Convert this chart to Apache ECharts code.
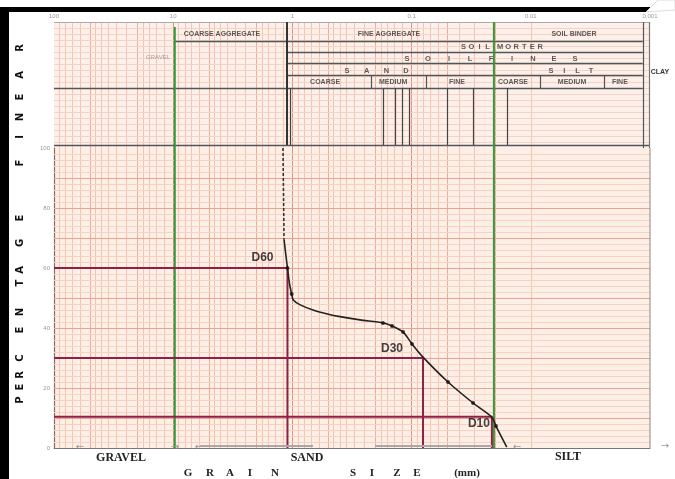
<!DOCTYPE html>
<html><head><meta charset="utf-8">
<script src="https://cdn.jsdelivr.net/npm/echarts@6/dist/echarts.min.js"></script>
<style>html,body{margin:0;padding:0;background:#fff}#c{width:675px;height:479px}</style>
</head><body><div id="c"></div>
<script>
// ---------------- DATA ----------------
const decadeTicks = [100, 10, 1, 0.1, 0.01, 0.001];
const percentTicks = [0, 20, 40, 60, 80, 100];
// grain size (mm) and percent finer
const curveDashedSize = [1.20, 1.175];
const curveDashedPct  = [100, 69.5];
const curveSize = [1.175, 1.14, 1.10, 1.06, 1.014, 0.983, 0.86, 0.672, 0.50, 0.399, 0.271, 0.174, 0.146, 0.118, 0.0993, 0.0802, 0.0495, 0.0305, 0.0212, 0.0196, 0.0159];
const curvePct  = [69.5, 65, 60, 55, 51.3, 49.3, 47.7, 46, 44.6, 43.8, 42.7, 41.7, 40.7, 38.7, 34.7, 30.3, 22, 15, 10.3, 7.3, 0.3];
const pointSize = [1.10, 1.014, 0.174, 0.146, 0.118, 0.0993, 0.0495, 0.0305, 0.0196];
const pointPct  = [60, 51.3, 41.7, 40.7, 38.7, 34.7, 22, 15, 7.3];
const dNames = ['D60', 'D30', 'D10'];
const dSizes = [1.10, 0.0802, 0.0212];
const dPcts  = [60, 30, 10.4];
const boundarySizes = [9.7, 0.0204];          // green division lines
const sieveSizes = [0.174, 0.138, 0.120, 0.105, 0.0505, 0.0305, 0.0159];

// ---------------- LAYOUT (decoration) ----------------
const HDR_MAX = 126;
const hLines = [ // [from mm, to mm, row offset, width, color]
  [100, 0.001, 0, 1, '#aaaaaa'],
  [9.7, 0.00115, 19, 1.3, '#555'],
  [1.11, 0.00115, 30, 1.3, '#555'],
  [1.11, 0.00115, 41, 1.3, '#555'],
  [1.11, 0.00115, 53, 1.3, '#555'],
  [100, 0.00115, 66, 1.3, '#555'],
  [100, 0.001, 123, 1.3, '#555']
];
const vLines = [ // [mm, from, to, width, color]
  [1.11, 0, 123, 2, '#333'],
  [1.05, 66, 123, 1.2, '#444'],
  [0.22, 53, 66, 1.2, '#555'],
  [0.076, 53, 66, 1.2, '#555'],
  [0.00837, 53, 66, 1.2, '#555'],
  [0.00243, 53, 66, 1.2, '#555'],
  [0.00115, 0, 126, 1.2, '#555'],
  [0.00102, 0, 126, 1.2, '#777']
];
const headerTexts = [ // [text, mm, row offset, style, step]
  ['COARSE AGGREGATE', 3.9, 12, 'b', 0],
  ['FINE AGGREGATE', 0.155, 12, 'b', 0],
  ['SOIL BINDER', 0.00434, 12, 'b', 0],
  ['SOIL MORTER', 0.0175, 25, 's', 8],
  ['SOILFINES', 0.0216, 37, 's', 21],
  ['SAND', 0.197, 49, 's', 19.7],
  ['SILT', 0.0046, 49, 's', 13.3],
  ['COARSE', 0.532, 60, 'b', 0],
  ['MEDIUM', 0.143, 60, 'b', 0],
  ['FINE', 0.0416, 60, 'b', 0],
  ['COARSE', 0.0141, 60, 'b', 0],
  ['MEDIUM', 0.00451, 60, 'b', 0],
  ['FINE', 0.00179, 60, 'b', 0],
  ['GRAVEL', 13.4, 35, 'g', 0]
];
const sideLetters = [['P',400],['E',387],['R',375],['C',358],['E',330],['N',312],['T',283],['A',270],['G',243],['E',218],['F',163],['I',137],['N',117],['E',97],['A',75],['R',48]];
const axisTitle = [['G',188],['R',210],['A',230],['I',250],['N',275],['S',353],['I',372],['Z',397],['E',417],['(mm)',467]];

const NARROW = '"Liberation Sans Narrow","Arial Narrow","Liberation Sans",sans-serif';
const SERIF = '"Liberation Serif","DejaVu Serif",serif';

// paper grid
const mult = [1,1.2,1.4,1.6,1.8,2,2.5,3,3.5,4,4.5,5,6,7,8,9];
const vGrid = [];
for (let e = -3; e <= 1; e++) for (const m of mult) {
  const v = +(m * Math.pow(10, e)).toPrecision(3);
  if (v > 0.001 && v < 100) vGrid.push({ xAxis: v, lineStyle: { type: 'solid', color: m === 1 ? '#e0937c' : (m === 5 || m === 2 ? '#eeae98' : '#f4c6b1'), width: 1 } });
}
const hGridMain = [];
for (let p = 2; p < 100; p += 2) hGridMain.push({ yAxis: p, lineStyle: { type: 'solid', color: p % 10 === 0 ? '#e9a391' : '#f6d2c4', width: 1 } });
const hGridHdr = [];
for (let r = 6; r < 123; r += 6) hGridHdr.push({ yAxis: r, lineStyle: { type: 'solid', color: '#f6d2c4', width: 1 } });

function spacedLabel(word, step) {
  let f = '';
  for (const ch of word) f += ch === ' ' ? '{g| }' : '{c|' + ch + '}';
  return { formatter: f, rich: { c: { width: step, align: 'center', fontSize: 7.5, fontWeight: 'bold', color: '#333', fontFamily: NARROW }, g: { width: step * 0.6 } } };
}

const hdrTextData = headerTexts.map(([t, x, y, s, step]) => {
  let label;
  if (s === 's') label = Object.assign({ show: true, position: 'inside' }, spacedLabel(t, step));
  else if (s === 'g') label = { show: true, position: 'inside', formatter: t, fontSize: 6, color: '#888', fontFamily: 'Liberation Sans, sans-serif' };
  else label = { show: true, position: 'inside', formatter: t, fontSize: 7, fontWeight: 'bold', color: '#333', fontFamily: NARROW };
  return { value: [x, y], label };
});

const hdrSegments = [];
hLines.forEach(([a, b, y, w, c]) => hdrSegments.push([{ coord: [a, y], lineStyle: { type: 'solid', width: w, color: c } }, { coord: [b, y] }]));
vLines.forEach(([x, a, b, w, c]) => hdrSegments.push([{ coord: [x, a], lineStyle: { type: 'solid', width: w, color: c } }, { coord: [x, b] }]));
sieveSizes.forEach(x => hdrSegments.push([{ coord: [x, 66], lineStyle: { type: 'solid', width: 1.2, color: '#444' } }, { coord: [x, 123] }]));

const mlBase = { silent: true, symbol: ['none', 'none'], label: { show: false }, lineStyle: { type: 'solid' }, emphasis: { disabled: true }, animation: false };

const series = [
  { type: 'line', xAxisIndex: 0, yAxisIndex: 0, data: [], silent: true, z: 1,
    markLine: Object.assign({}, mlBase, { data: vGrid.concat(hGridHdr) }) },
  { type: 'line', xAxisIndex: 1, yAxisIndex: 1, data: [], silent: true, z: 1,
    markLine: Object.assign({}, mlBase, { data: vGrid.concat(hGridMain) }) },
  { type: 'scatter', xAxisIndex: 0, yAxisIndex: 0, symbolSize: 0, silent: true, z: 5, data: hdrTextData,
    markLine: Object.assign({}, mlBase, { data: hdrSegments }) }
];
boundarySizes.forEach((b, i) => {
  series.push({ type: 'line', xAxisIndex: 0, yAxisIndex: 0, silent: true, z: 6, symbol: 'none',
    lineStyle: { color: '#2f9a3c', width: 2 }, data: [[b, i === 0 ? 5 : 0], [b, HDR_MAX]] });
  series.push({ type: 'line', xAxisIndex: 1, yAxisIndex: 1, silent: true, z: 6, symbol: 'none',
    lineStyle: { color: '#2f9a3c', width: 2 }, data: [[b, 0], [b, 100]] });
});
dSizes.forEach((d, i) => {
  series.push({ type: 'line', xAxisIndex: 1, yAxisIndex: 1, silent: true, z: 7, symbol: 'none',
    lineStyle: { color: '#8e1f45', width: 2 }, data: [[100, dPcts[i]], [d, dPcts[i]], [d, 0]] });
});
series.push({ type: 'line', xAxisIndex: 1, yAxisIndex: 1, silent: true, z: 9, symbol: 'none',
  lineStyle: { color: '#333', width: 1.6, type: [3, 2] }, data: curveDashedSize.map((s, i) => [s, curveDashedPct[i]]) });
series.push({ type: 'line', xAxisIndex: 1, yAxisIndex: 1, silent: true, z: 9, symbol: 'none', smooth: 0.25,
  lineStyle: { color: '#222', width: 1.6 }, data: curveSize.map((s, i) => [s, curvePct[i]]) });
series.push({ type: 'scatter', xAxisIndex: 1, yAxisIndex: 1, silent: true, z: 10, symbol: 'circle', symbolSize: 4,
  itemStyle: { color: '#111' }, data: pointSize.map((s, i) => [s, pointPct[i]]) });
const dOffsets = [[-25, -10], [-31, -9], [-13, 7]];
series.push({ type: 'scatter', xAxisIndex: 1, yAxisIndex: 1, silent: true, z: 11, symbolSize: 0,
  data: dSizes.map((d, i) => ({ value: [d, dPcts[i]], label: { show: true, position: 'inside', offset: dOffsets[i], formatter: dNames[i],
    fontSize: 12, fontWeight: 'bold', color: '#111', fontFamily: 'Liberation Sans, Arial, sans-serif' } })) });

const graphic = [
  { type: 'rect', shape: { x: 0, y: 7, width: 9, height: 472 }, style: { fill: '#000' }, z: 100 },
  { type: 'rect', shape: { x: 0, y: 7, width: 650, height: 5 }, style: { fill: '#000' }, z: 100 },
  { type: 'polygon', shape: { points: [[646, 12], [658, 0], [675, 0], [675, 10]] }, style: { fill: '#ffffff', stroke: '#dddddd', lineWidth: 1 }, z: 101 },
  { type: 'text', x: 338, y: 1, style: { text: 'SIEVE ANALYSIS TEST RESULT', fill: '#9a9a9a', font: '11px Liberation Sans, sans-serif', align: 'center', verticalAlign: 'bottom' }, z: 100 },
  { type: 'text', x: 660, y: 72, style: { text: 'CLAY', fill: '#333', font: 'bold 7px ' + NARROW, align: 'center', verticalAlign: 'middle' }, z: 100 },
  { type: 'text', x: 121, y: 458, style: { text: 'GRAVEL', fill: '#222', font: 'bold 12px ' + SERIF, align: 'center', verticalAlign: 'middle' } },
  { type: 'text', x: 307, y: 458, style: { text: 'SAND', fill: '#222', font: 'bold 12px ' + SERIF, align: 'center', verticalAlign: 'middle' } },
  { type: 'text', x: 568, y: 457, style: { text: 'SILT', fill: '#222', font: 'bold 12px ' + SERIF, align: 'center', verticalAlign: 'middle' } },
  { type: 'text', x: 80, y: 447, style: { text: '←', fill: '#999', font: '10px DejaVu Sans', align: 'center', verticalAlign: 'middle' }, z: 50 },
  { type: 'text', x: 175, y: 447, style: { text: '→', fill: '#999', font: '10px DejaVu Sans', align: 'center', verticalAlign: 'middle' }, z: 50 },
  { type: 'text', x: 199, y: 447, style: { text: '←', fill: '#999', font: '10px DejaVu Sans', align: 'center', verticalAlign: 'middle' }, z: 50 },
  { type: 'line', shape: { x1: 200, y1: 446, x2: 313, y2: 446 }, style: { stroke: '#a8a8a8', lineWidth: 2 }, z: 50 },
  { type: 'line', shape: { x1: 375, y1: 446, x2: 492, y2: 446 }, style: { stroke: '#a8a8a8', lineWidth: 2 }, z: 50 },
  { type: 'text', x: 517, y: 447, style: { text: '←', fill: '#999', font: '10px DejaVu Sans', align: 'center', verticalAlign: 'middle' }, z: 50 },
  { type: 'text', x: 665, y: 446, style: { text: '→', fill: '#999', font: '10px DejaVu Sans', align: 'center', verticalAlign: 'middle' }, z: 50 },
  { type: 'line', shape: { x1: 650, y1: 148, x2: 650, y2: 448 }, style: { stroke: '#888', lineWidth: 1 }, z: 50 }
];
sideLetters.forEach(([ch, y]) => graphic.push({ type: 'text', x: 20, y, rotation: Math.PI / 2,
  style: { text: ch, fill: '#111', font: 'bold 10px "DejaVu Sans", sans-serif', align: 'center', verticalAlign: 'middle' }, z: 100 }));
axisTitle.forEach(([ch, x]) => graphic.push({ type: 'text', x, y: 473,
  style: { text: ch, fill: '#222', font: 'bold 11px ' + SERIF, align: 'center', verticalAlign: 'middle' } }));

const chart = echarts.init(document.getElementById('c'));
chart.setOption({
  animation: false,
  backgroundColor: '#ffffff',
  grid: [
    { left: 54, top: 22, width: 596, height: HDR_MAX, show: true, backgroundColor: '#fdf0ea', borderWidth: 0 },
    { left: 54, top: 148, width: 596, height: 300, show: true, backgroundColor: '#fdeee6', borderWidth: 0 }
  ],
  xAxis: [
    { gridIndex: 0, type: 'log', logBase: 10, min: decadeTicks[decadeTicks.length - 1], max: decadeTicks[0], inverse: true, position: 'top',
      axisLine: { show: false }, axisTick: { show: false }, splitLine: { show: false },
      axisLabel: { show: true, fontSize: 6, color: '#9a9a9a', margin: 3, formatter: v => String(Number((+v).toPrecision(1))) } },
    { gridIndex: 1, type: 'log', logBase: 10, min: decadeTicks[decadeTicks.length - 1], max: decadeTicks[0], inverse: true,
      axisLine: { show: true, lineStyle: { color: '#777', width: 1 } }, axisTick: { show: false }, splitLine: { show: false }, axisLabel: { show: false } }
  ],
  yAxis: [
    { gridIndex: 0, type: 'value', min: 0, max: HDR_MAX, inverse: true, show: false },
    { gridIndex: 1, type: 'value', min: percentTicks[0], max: percentTicks[percentTicks.length - 1], interval: 20,
      axisLine: { show: true, lineStyle: { color: '#8a6c62', width: 1.2 } }, axisTick: { show: false }, splitLine: { show: false },
      axisLabel: { fontSize: 6, color: '#999', margin: 4 } }
  ],
  series,
  graphic
});
</script></body></html>
